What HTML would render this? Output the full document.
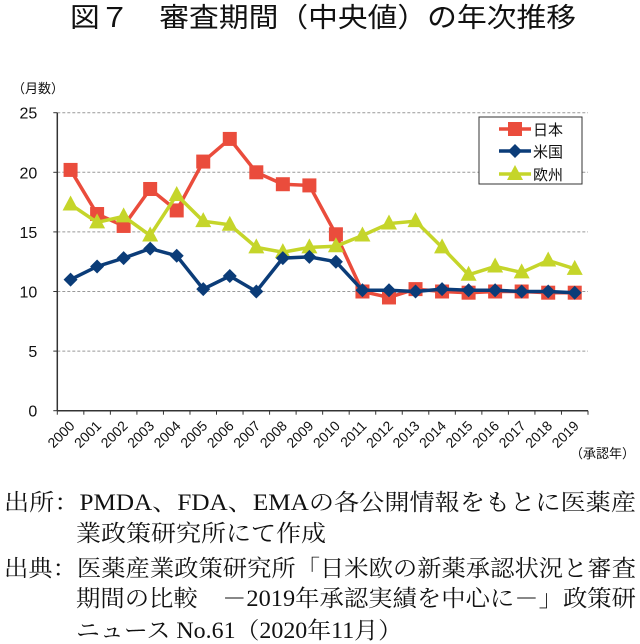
<!DOCTYPE html>
<html><head><meta charset="utf-8"><style>
html,body{margin:0;padding:0;background:#fff;}
svg{display:block;}
.t{font-family:"Liberation Sans","Noto Sans CJK JP",sans-serif;}
.s{font-family:"Liberation Serif","Noto Serif CJK SC",serif;}
</style></head><body>
<svg id="c" width="640" height="644" viewBox="0 0 640 644" xmlns="http://www.w3.org/2000/svg">
<text class="t" x="70" y="27" font-size="27" textLength="506" lengthAdjust="spacingAndGlyphs" fill="#111">図７　審査期間（中央値）の年次推移</text>
<text class="t" x="12" y="93" font-size="13" fill="#111">（月数）</text>
<g id="g"></g>
<text class="s" x="4" y="510" font-size="23" textLength="632" lengthAdjust="spacingAndGlyphs" fill="#111">出所：PMDA、FDA、EMAの各公開情報をもとに医薬産</text>
<text class="s" x="76" y="541" font-size="23" textLength="250" lengthAdjust="spacingAndGlyphs" fill="#111">業政策研究所にて作成</text>
<text class="s" x="4" y="576" font-size="23" textLength="632" lengthAdjust="spacingAndGlyphs" fill="#111">出典：医薬産業政策研究所「日米欧の新薬承認状況と審査</text>
<text class="s" x="76" y="606" font-size="23" textLength="560" lengthAdjust="spacingAndGlyphs" fill="#111">期間の比較　－2019年承認実績を中心に－」政策研</text>
<text class="s" x="76" y="638" font-size="23" textLength="326" lengthAdjust="spacingAndGlyphs" fill="#111">ニュース No.61（2020年11月）</text>
</svg>
<script>
var NS="http://www.w3.org/2000/svg",g=document.getElementById('g');
function el(t,a,txt){var e=document.createElementNS(NS,t);for(var k in a)e.setAttribute(k,a[k]);if(txt!=null)e.textContent=txt;g.appendChild(e);return e;}
var X0=57.3,X1=588,Y0=410.7,k=11.92,dx=(X1-X0)/20;
function X(i){return X0+dx*(i+0.5);}function Y(v){return Y0-k*v;}
for(var v=5;v<=25;v+=5){el('line',{x1:X0,x2:X1,y1:Y(v),y2:Y(v),stroke:'#999','stroke-dasharray':'3,2','stroke-width':1});}
for(var v=0;v<=25;v+=5){el('line',{x1:X0-4,x2:X0,y1:Y(v),y2:Y(v),stroke:'#333'});el('text',{x:X0-20,y:Y(v)+6,'font-size':16,'text-anchor':'end',class:'t',fill:'#111'},String(v));}
el('line',{x1:X0,x2:X0,y1:Y(25),y2:Y0,stroke:'#333','stroke-width':1.5});
el('line',{x1:X0,x2:X1,y1:Y0,y2:Y0,stroke:'#333','stroke-width':1.5});
for(var i=0;i<=20;i++){var x=X0+dx*i;el('line',{x1:x,x2:x,y1:Y0,y2:Y0+4,stroke:'#333'});}
for(var i=0;i<20;i++){var x=X(i)+5,y=Y0+16;el('text',{x:x,y:y,'font-size':14,'text-anchor':'end',class:'t',fill:'#111',transform:'rotate(-45 '+x+' '+y+')'},String(2000+i));}
el('text',{x:570,y:458,'font-size':13,class:'t',fill:'#111'},'（承認年）');
var jp=[20.2,16.5,15.5,18.6,16.8,20.9,22.8,20.0,19.0,18.9,14.8,10.0,9.5,10.2,10.0,9.9,10.0,10.0,9.9,9.9];
var us=[11.0,12.1,12.8,13.6,13.0,10.2,11.3,10.0,12.8,12.9,12.5,10.1,10.1,10.0,10.2,10.1,10.1,10.0,10.0,9.9];
var eu=[17.3,15.8,16.3,14.7,18.1,15.9,15.6,13.7,13.3,13.7,13.8,14.7,15.7,15.9,13.7,11.4,12.1,11.6,12.6,11.9];
function pts(a){return a.map(function(v,i){return X(i)+','+Y(v)}).join(' ');}
function sq(x,y,c){el('rect',{x:x-7,y:y-7,width:14,height:14,fill:c});}
function di(x,y,c){el('polygon',{points:(x)+','+(y-7)+' '+(x+7)+','+y+' '+x+','+(y+7)+' '+(x-7)+','+y,fill:c});}
function tr(x,y,c){el('polygon',{points:x+','+(y-9)+' '+(x+8)+','+(y+6)+' '+(x-8)+','+(y+6),fill:c});}
var R='#ea4c3c',B='#0b3c78',G='#c5d52a';
el('polyline',{points:pts(jp),fill:'none',stroke:R,'stroke-width':3.5});jp.forEach(function(v,i){sq(X(i),Y(v),R);});
el('polyline',{points:pts(eu),fill:'none',stroke:G,'stroke-width':3.5});eu.forEach(function(v,i){tr(X(i),Y(v),G);});
el('polyline',{points:pts(us),fill:'none',stroke:B,'stroke-width':3.5});us.forEach(function(v,i){di(X(i),Y(v),B);});
el('rect',{x:479,y:117,width:103,height:67,fill:'#fff',stroke:'#333','stroke-width':1});
var L=[[R,'日本',sq,129],[B,'米国',di,151],[G,'欧州',tr,174]];
L.forEach(function(l){el('line',{x1:499,x2:531,y1:l[3],y2:l[3],stroke:l[0],'stroke-width':3.5});l[2](515,l[3],l[0]);el('text',{x:533,y:l[3]+6,'font-size':15,class:'t',fill:'#111'},l[1]);});
</script>
</body></html>
